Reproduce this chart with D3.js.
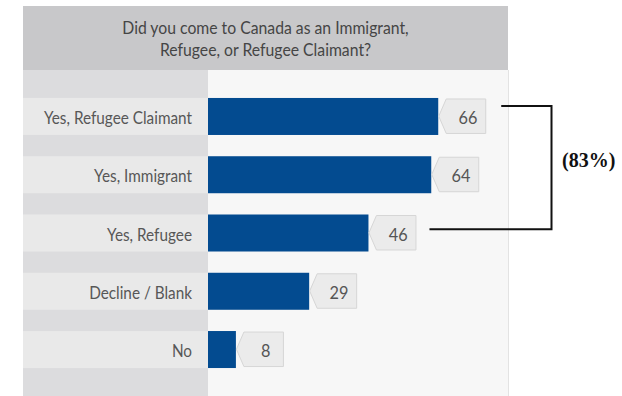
<!DOCTYPE html>
<html>
<head>
<meta charset="utf-8">
<script src="https://cdn.jsdelivr.net/npm/d3@7"></script>
<style>
  html, body { margin: 0; padding: 0; background: #ffffff; }
  svg { display: block; }
  .sans { font-family: Lato, "Open Sans", sans-serif; }
  .serif { font-family: "Liberation Serif", "DejaVu Serif", serif; font-weight: bold; }
</style>
</head>
<body>
<svg id="chart" width="622" height="396"></svg>
<script>
// Survey question and responses
const titleLines = ["Did you come to Canada as an Immigrant,", "Refugee, or Refugee Claimant?"];
const categories = ["Yes, Refugee Claimant", "Yes, Immigrant", "Yes, Refugee", "Decline / Blank", "No"];
const counts = [66, 64, 46, 29, 8];
// Bracketed subtotal spanning the three "Yes" answers
const bracketFrom = "Yes, Refugee Claimant";
const bracketTo = "Yes, Refugee";
const bracketLabel = "(83%)";

const W = 622, H = 396;
const panel = { left: 23, right: 508, top: 6, headerBottom: 70, labelRight: 208 };

const svg = d3.select("#chart");

// Narrow text toward a condensed look, to a given fraction of its natural width
function condense(sel, k) {
  sel.each(function () {
    const len = this.getComputedTextLength();
    d3.select(this).attr("textLength", len * k).attr("lengthAdjust", "spacingAndGlyphs");
  });
  return sel;
}

const x = d3.scaleLinear().domain([0, 86]).range([panel.labelRight, panel.right]);
const y = d3.scaleBand().domain(categories).range([panel.headerBottom, H])
  .paddingInner(0.365).paddingOuter(0.48);

const data = categories.map((c, i) => ({ cat: c, value: counts[i] }));

// Header
svg.append("rect")
  .attr("x", panel.left).attr("y", panel.top)
  .attr("width", panel.right - panel.left).attr("height", panel.headerBottom - panel.top)
  .attr("fill", "#c8c8ca");

svg.append("g").selectAll("text").data(titleLines).join("text")
  .attr("class", "sans")
  .attr("x", (panel.left + panel.right) / 2)
  .attr("y", (d, i) => 34 + i * 21.8)
  .attr("text-anchor", "middle")
  .attr("font-size", 17.5)
  .attr("fill", "#454545")
  .text(d => d)
  .call(condense, 0.9);

// Label column and plot background
svg.append("rect")
  .attr("x", panel.left).attr("y", panel.headerBottom)
  .attr("width", panel.labelRight - panel.left).attr("height", H - panel.headerBottom)
  .attr("fill", "#dcdcde");
svg.append("rect")
  .attr("x", panel.labelRight).attr("y", panel.headerBottom)
  .attr("width", panel.right - panel.labelRight).attr("height", H - panel.headerBottom)
  .attr("fill", "#f7f7f7");
svg.append("line")
  .attr("x1", panel.right + 0.5).attr("x2", panel.right + 0.5)
  .attr("y1", panel.headerBottom).attr("y2", H)
  .attr("stroke", "#e3e3e3").attr("stroke-width", 1);

svg.append("g").selectAll("rect").data(data).join("rect")
  .attr("x", panel.left).attr("y", d => y(d.cat))
  .attr("width", panel.labelRight - panel.left).attr("height", y.bandwidth())
  .attr("fill", "#e9e9e9");

svg.append("g").selectAll("text").data(data).join("text")
  .attr("class", "sans")
  .attr("x", panel.labelRight - 16)
  .attr("y", d => y(d.cat) + y.bandwidth() / 2 + 7.6)
  .attr("text-anchor", "end")
  .attr("font-size", 17)
  .attr("fill", "#575757")
  .text(d => d.cat)
  .call(condense, 0.9);

// Bars
svg.append("g").selectAll("rect").data(data).join("rect")
  .attr("x", x(0)).attr("y", d => y(d.cat))
  .attr("width", d => x(d.value) - x(0)).attr("height", y.bandwidth())
  .attr("fill", "#034b90");

// Value tags: arrow-shaped callouts pointing at each bar end
const tagW = 47, tagTip = 7.5;
function tagPath(d) {
  const x0 = x(d.value) + 0.5, t = y(d.cat) + 1, b = y(d.cat) + y.bandwidth() - 1.5;
  const p = d3.path();
  p.moveTo(x0, (t + b) / 2);
  p.lineTo(x0 + tagTip, t);
  p.lineTo(x0 + tagW, t);
  p.lineTo(x0 + tagW, b);
  p.lineTo(x0 + tagTip, b);
  p.closePath();
  return p.toString();
}
svg.append("g").selectAll("path").data(data).join("path")
  .attr("d", tagPath)
  .attr("fill", "#ebebeb")
  .attr("stroke", "#d6d6d6")
  .attr("stroke-width", 1);

svg.append("g").selectAll("text").data(data).join("text")
  .attr("class", "sans")
  .attr("x", d => x(d.value) + 0.5 + tagTip + (tagW - tagTip) / 2 + 2)
  .attr("y", d => y(d.cat) + y.bandwidth() / 2 + 7.6)
  .attr("text-anchor", "middle")
  .attr("font-size", 17.5)
  .attr("fill", "#555555")
  .text(d => d.value)
  .call(condense, 0.93);

// Subtotal bracket
const vFrom = counts[categories.indexOf(bracketFrom)];
const vTo = counts[categories.indexOf(bracketTo)];
const bx = 551.5;
const yTop = y(bracketFrom) + 8;
const yBot = y(bracketTo) + y.bandwidth() * 0.4;
const br = d3.path();
br.moveTo(x(vFrom) + tagW + 16, yTop);
br.lineTo(bx, yTop);
br.lineTo(bx, yBot);
br.lineTo(x(vTo) + tagW + 14, yBot);
svg.append("path")
  .attr("d", br.toString())
  .attr("fill", "none")
  .attr("stroke", "#111111")
  .attr("stroke-width", 2);

svg.append("text")
  .attr("class", "serif")
  .attr("x", 562)
  .attr("y", 166.5)
  .attr("font-size", 20)
  .attr("fill", "#111111")
  .text(bracketLabel);
</script>
</body>
</html>
